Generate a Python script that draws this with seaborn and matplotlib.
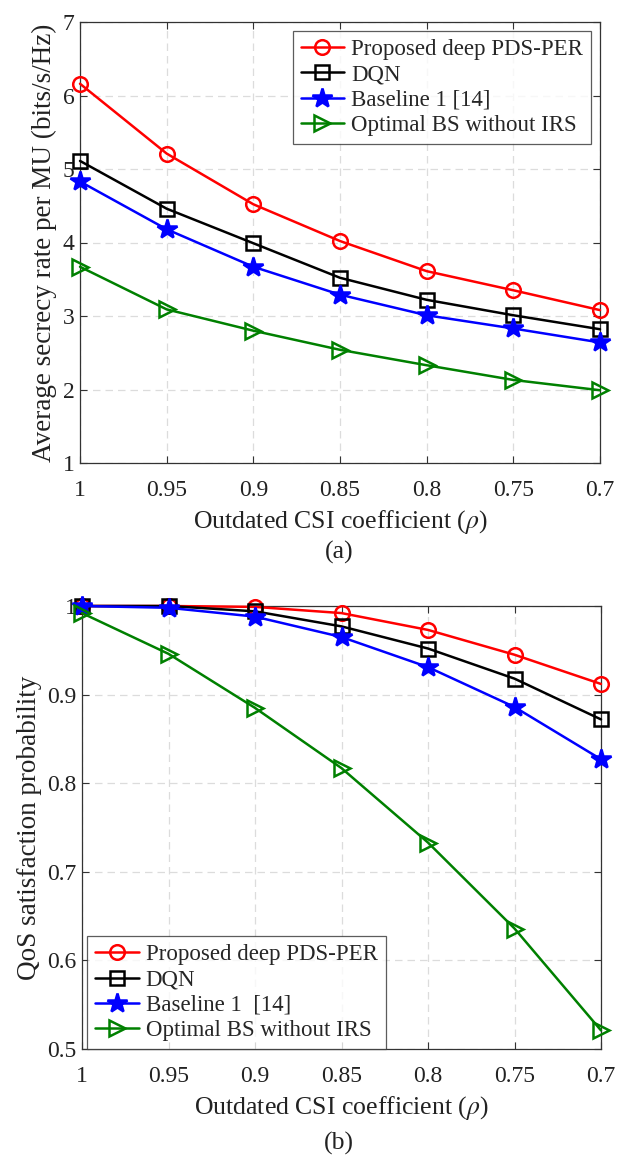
import numpy as np
import pandas as pd
import matplotlib
matplotlib.use('Agg')
import matplotlib.pyplot as plt
import seaborn as sns

# data
rho = [1, 0.95, 0.9, 0.85, 0.8, 0.75, 0.7]
rho_labels = ['1', '0.95', '0.9', '0.85', '0.8', '0.75', '0.7']
series = ['Proposed deep PDS-PER', 'DQN', 'Baseline 1 [14]', 'Optimal BS without IRS']
series_b = ['Proposed deep PDS-PER', 'DQN', 'Baseline 1  [14]', 'Optimal BS without IRS']

rate_pds = [6.16, 5.21, 4.52, 4.02, 3.61, 3.35, 3.08]
rate_dqn = [5.11, 4.46, 3.99, 3.52, 3.22, 3.01, 2.82]
rate_base = [4.83, 4.18, 3.67, 3.29, 3.01, 2.83, 2.64]
rate_nois = [3.67, 3.09, 2.80, 2.54, 2.33, 2.13, 1.99]

qos_pds = [1.0, 1.0, 0.999, 0.992, 0.973, 0.945, 0.912]
qos_dqn = [1.0, 1.0, 0.994, 0.977, 0.952, 0.918, 0.872]
qos_base = [1.0, 0.998, 0.988, 0.965, 0.931, 0.886, 0.827]
qos_nois = [0.992, 0.946, 0.885, 0.817, 0.733, 0.636, 0.521]

colors = ['#ff0000', '#000000', '#0000ff', '#008000']
markers = ['o', 's', '*', '>']
msizes = [10.5, 10.5, 15, 12]
filled = [False, False, True, False]

sns.set_theme(style='ticks')
plt.rcParams['font.family'] = ['Liberation Serif', 'DejaVu Serif']
plt.rcParams['mathtext.fontset'] = 'stix'
plt.rcParams['xtick.direction'] = 'in'
plt.rcParams['ytick.direction'] = 'in'

fig = plt.figure(figsize=(6.23, 11.71), dpi=100)
ax1 = fig.add_axes([80 / 623, 1 - 463 / 1171, 520 / 623, 441 / 1171])
ax2 = fig.add_axes([82 / 623, 1 - 1049 / 1171, 519 / 623, 443 / 1171])


def draw(ax, ys, names):
    for i, y in enumerate(ys):
        df = pd.DataFrame({'rho': rho, 'val': y})
        sns.lineplot(data=df, x='rho', y='val', ax=ax, color=colors[i],
                     marker=markers[i], markersize=msizes[i], linewidth=1.8,
                     markeredgewidth=1.8, markeredgecolor=colors[i],
                     markerfacecolor=colors[i] if filled[i] else 'none',
                     label=names[i], clip_on=False, zorder=3)
    ax.set_xlim(1, 0.7)
    ax.set_xticks(rho)
    ax.set_xticklabels(rho_labels)
    ax.grid(True, linestyle=(0, (6, 4)), color='#dcdcdc', linewidth=0.9)
    ax.tick_params(top=True, right=True, labelsize=17, length=5, width=0.8,
                   colors='#333333', labelcolor='#222222')
    ax.tick_params(axis='x', pad=12.5)
    ax.tick_params(axis='y', pad=4)
    for s in ax.spines.values():
        s.set_color('#333333')
        s.set_linewidth(0.9)
    ax.set_xlabel(r'Outdated CSI coefficient ($\rho$)', fontsize=18.5, color='#222222', labelpad=4.5)


def legend(ax, loc, anchor, pad):
    leg = ax.legend(loc=loc, bbox_to_anchor=anchor, fontsize=16.5, frameon=True,
                    fancybox=False, edgecolor='#333333', handlelength=1.9,
                    handletextpad=0.3, borderpad=0.35, labelspacing=0.18,
                    borderaxespad=pad)
    leg.get_frame().set_linewidth(0.9)


draw(ax1, [rate_pds, rate_dqn, rate_base, rate_nois], series)
ax1.set_ylim(1, 7)
ax1.set_yticks([1, 2, 3, 4, 5, 6, 7])
ax1.set_ylabel('Average secrecy rate per MU (bits/s/Hz)', fontsize=19.5, color='#222222', labelpad=4)
legend(ax1, 'upper right', (1, 1), 0.4)

draw(ax2, [qos_pds, qos_dqn, qos_base, qos_nois], series_b)
ax2.set_ylim(0.5, 1)
ax2.set_yticks([0.5, 0.6, 0.7, 0.8, 0.9, 1.0])
ax2.set_yticklabels(['0.5', '0.6', '0.7', '0.8', '0.9', '1'])
ax2.set_ylabel('QoS satisfaction probability', fontsize=19.5, color='#222222', labelpad=4)
legend(ax2, 'lower left', (0.01, 0.0), 0)

fig.text(339 / 623, 1 - 552 / 1171, '(a)', ha='center', va='center', fontsize=18.5, color='#222222')
fig.text(339 / 623, 1 - 1143 / 1171, '(b)', ha='center', va='center', fontsize=18.5, color='#222222')

fig.savefig('out.png', dpi=100, facecolor='white')
